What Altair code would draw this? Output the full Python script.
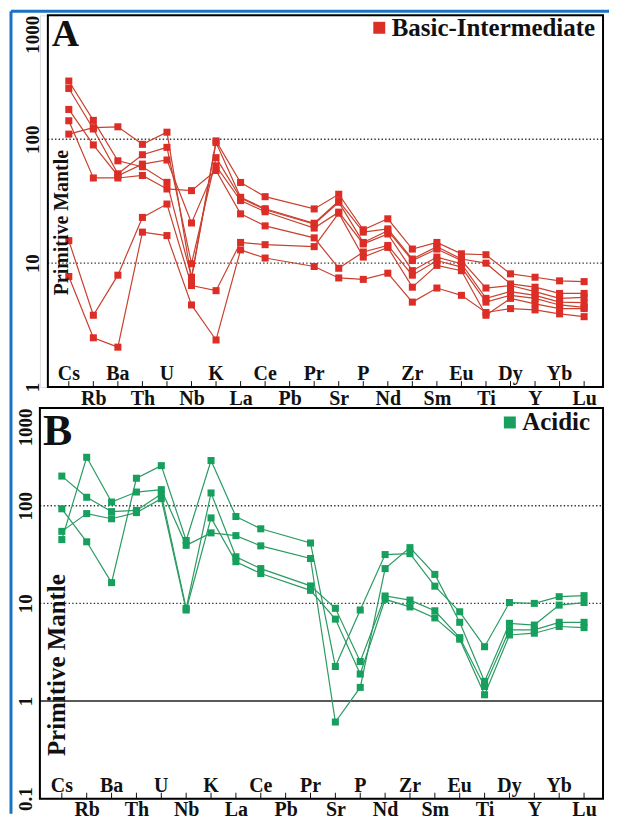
import altair as alt
import pandas as pd

# ---------------- data ----------------
elements = ["Cs", "Rb", "Ba", "Th", "U", "Nb", "K", "La", "Ce", "Pb", "Pr",
            "Sr", "P", "Nd", "Zr", "Sm", "Eu", "Ti", "Dy", "Y", "Yb", "Lu"]

group_a = "Basic-Intermediate"
group_b = "Acidic"

a1 = [295, 142, 67, 60, 44.9, 7.7, 97, 44.8, 34.4, None, 27.4, 36, 18.6, 22.8, 13.0, 14.7, 11.9, 11.7, 8.2, 7.7, 7.2, 7.1]
a2 = [110, 124, 126, 91, 114, 7.5, 94, 34, 27.5, None, 21, 31.8, 17.8, 18.9, 10.8, 13.6, 10.8, 10.0, 6.8, 6.4, 5.7, 5.7]
a3 = [257, 121, 52.6, 75, 86, 9.9, 71, 33.6, 27, None, 20.7, 31, 14.7, 18.3, 10.5, 13.0, 10.5, 6.3, 6.6, 5.9, 5.2, 5.3]
a4 = [174, 90, 50.8, 63, 68, 21.1, 61, 32, 26, None, 19.2, 25.8, 14.3, 17.2, 8.7, 11.2, 9.9, 5.2, 5.9, 5.5, 4.85, 4.8]
a5 = [141, 48.7, 48.7, 51, 39.7, 38.5, 56, 25, 20, None, 16, 9.1, 12.3, 13.9, 8.0, 10.5, 9.3, 4.85, 5.5, 5.2, 4.6, 4.4]
a6 = [15.2, 3.8, 8.0, 23.4, 30, 6.6, 6.0, 14.7, 14.1, None, 13.6, 25.3, 11.2, 13.4, 6.4, 9.6, 8.7, 3.8, 5.2, 4.7, 4.3, 4.3]
a7 = [7.8, 2.5, 2.1, 17.8, 16.7, 4.6, 2.4, 12.8, 11.0, None, 9.4, 7.6, 7.4, 8.3, 4.85, 6.3, 5.5, 4.0, 4.3, 4.2, 3.9, 3.7]

b1 = [93, 42.7, 16.3, 191, 257, 44, 290, 77.5, 58, None, 41.5, 2.26, 8.55, 31.6, 32.3, 15.0, 8.2, 3.6, 10.2, 10, 11.7, 12]
b2 = [45, 313, 109, 138, 146, 39.3, 52.7, 49.4, 38.8, None, 28.8, 0.61, 1.38, 22.7, 37.2, 19.8, 6.4, 1.59, 6.25, 6.0, 9.6, 10.2]
b3 = [201, 122, 87, 89.4, 132, 8.9, 135, 30, 22.7, None, 15.1, 8.9, 2.54, 11.9, 10.8, 8.4, 4.46, 1.41, 5.35, 5.35, 6.4, 6.4]
b4 = [54.6, 83, 73.5, 85, 118, 8.55, 75, 26.7, 20.2, None, 13.6, 6.9, 1.89, 11.0, 9.2, 7.1, 4.3, 1.16, 4.75, 4.95, 5.8, 5.65]

samples_a = {"A1": a1, "A2": a2, "A3": a3, "A4": a4, "A5": a5, "A6": a6, "A7": a7}
samples_b = {"B1": b1, "B2": b2, "B3": b3, "B4": b4}

yticks_a = [1, 10, 100, 1000]
yticks_b = [0.1, 1, 10, 100, 1000]
dotted_a = [10, 100]
dotted_b = [10, 100]
solid_b = [1]

panel_letters = ["A", "B"]
y_title = "Primitive Mantle"

FONT = "Liberation Serif"
INK = "#111111"


def long_df(samples, group):
    rows = []
    for name, vals in samples.items():
        for i, v in enumerate(vals):
            if v is not None:
                rows.append({"sample": name, "idx": i, "element": elements[i],
                             "value": v, "group": group})
    return pd.DataFrame(rows)


elem_df = pd.DataFrame({"idx": list(range(len(elements))), "element": elements})
even_df = elem_df[elem_df["idx"] % 2 == 0]
one_row = pd.DataFrame({"k": [0]})

label_array = "[" + ",".join("'" + e + "'" for e in elements) + "]"
x_label_expr = "datum.value % 2 == 1 ? " + label_array + "[datum.value] : ''"


def panel(samples, group, pt_color, line_color, W, H, xdom, ydom, yvals,
          dotted, solid, frame_x0, axis_offset, label_pad,
          letter, letter_size, letter_xy, title_size, title_xy, legend_xy):
    df = long_df(samples, group)
    xenc = alt.X("idx:Q",
                 scale=alt.Scale(domain=xdom, nice=False, zero=False),
                 axis=alt.Axis(values=list(range(len(elements))), labelExpr=x_label_expr,
                               ticks=False, domain=False, grid=False, title=None,
                               labelFont=FONT, labelFontSize=20, labelFontWeight="bold",
                               labelColor=INK, labelPadding=1, labelBaseline="top",
                               labelFlush=False, labelOverlap=False))
    yenc = alt.Y("value:Q",
                 scale=alt.Scale(type="log", domain=ydom, nice=False),
                 axis=alt.Axis(values=yvals, format="~g", ticks=False, domain=False,
                               grid=False, title=None, offset=axis_offset,
                               labelFont=FONT, labelFontSize=19, labelFontWeight="bold",
                               labelColor=INK, labelAngle=270, labelBaseline="bottom",
                               labelAlign={"condition": {"test": "datum.value >= 1000",
                                                         "value": "right"},
                                           "value": "center"},
                               labelPadding=label_pad, labelFlush=False,
                               labelOverlap=False))

    layers = []
    grid_dot = alt.Chart(pd.DataFrame({"value": dotted})).mark_rule(
        color="#333333", strokeWidth=1.4, strokeDash=[1.4, 2.2]
    ).encode(y=yenc, x=alt.value(frame_x0), x2=alt.value(W))
    layers.append(grid_dot)
    if solid:
        grid_solid = alt.Chart(pd.DataFrame({"value": solid})).mark_rule(
            color="#222222", strokeWidth=1.5
        ).encode(y=yenc, x=alt.value(frame_x0), x2=alt.value(W))
        layers.append(grid_solid)

    lines = alt.Chart(df).mark_line(color=line_color, strokeWidth=1.2).encode(
        x=xenc, y=yenc, detail="sample:N", order="idx:Q")
    points = alt.Chart(df).mark_point(shape="square", filled=True, size=50, opacity=1).encode(
        x=xenc, y=yenc,
        color=alt.Color("group:N",
                        scale=alt.Scale(domain=[group], range=[pt_color]),
                        legend=alt.Legend(title=None, orient="none",
                                          legendX=legend_xy[0], legendY=legend_xy[1],
                                          symbolType="square", symbolSize=144,
                                          symbolStrokeWidth=0, labelFont=FONT,
                                          labelFontSize=25, labelFontWeight="bold",
                                          labelColor=INK, labelLimit=500,
                                          labelOffset=0, padding=0)))
    layers += [lines, points]

    ticks = alt.Chart(elem_df).mark_rule(color=INK, strokeWidth=1).encode(
        x=xenc, y=alt.value(H), y2=alt.value(H - 6))
    top_labels = alt.Chart(even_df).mark_text(
        font=FONT, fontSize=20, fontWeight="bold", color=INK,
        align="center", baseline="alphabetic"
    ).encode(x=xenc, y=alt.value(H - 7), text="element:N")
    frame = alt.Chart(one_row).mark_rect(fillOpacity=0, stroke="#000000", strokeWidth=2).encode(
        x=alt.value(frame_x0), x2=alt.value(W), y=alt.value(0), y2=alt.value(H))
    letter_mark = alt.Chart(one_row).mark_text(
        font=FONT, fontSize=letter_size, fontWeight="bold", color=INK,
        align="left", baseline="alphabetic"
    ).encode(x=alt.value(letter_xy[0]), y=alt.value(letter_xy[1]), text=alt.value(letter))
    title_mark = alt.Chart(one_row).mark_text(
        font=FONT, fontSize=title_size, fontWeight="bold", color=INK,
        align="center", baseline="middle", angle=270
    ).encode(x=alt.value(title_xy[0]), y=alt.value(title_xy[1]), text=alt.value(y_title))
    layers += [ticks, top_labels, frame, letter_mark, title_mark]
    return layers


W = 565
HA = 373
HB = 392

layers_a = panel(samples_a, group_a, "#dc2e26", "#c9402f", W, HA,
                 [-1.178, 21.77], [1, 1000], yticks_a, dotted_a, [], 8, -8, 5,
                 panel_letters[0], 38, (12, 31), 20, (22, 208), (328, 0))
# blue page frame (top and left edges)
blue_top = alt.Chart(one_row).mark_rule(color="#1a72c4", strokeWidth=3).encode(
    x=alt.value(-29), x2=alt.value(571), y=alt.value(-4))
blue_left = alt.Chart(one_row).mark_rule(color="#1a72c4", strokeWidth=3).encode(
    x=alt.value(-29), y=alt.value(-4), y2=alt.value(801))
chart_a = alt.layer(*layers_a, blue_top, blue_left).properties(width=W, height=HA)

layers_b = panel(samples_b, group_b, "#17a05d", "#2a9b63", W, HB,
                 [-0.882, 21.763], [0.1, 1000], yticks_b, dotted_b, solid_b, 0, 0, 4,
                 panel_letters[1], 44, (3, 37), 25, (17, 258), (459, 2))
chart_b = alt.layer(*layers_b).properties(width=W, height=HB)

chart = alt.vconcat(chart_a, chart_b, spacing=21, bounds="flush").resolve_scale(
    color="independent").properties(
    padding={"left": 1, "top": 0, "right": 0, "bottom": 0}
).configure_view(strokeWidth=0).configure(font=FONT)

chart.save("out.html", embed_options={"renderer": "svg", "actions": False})
